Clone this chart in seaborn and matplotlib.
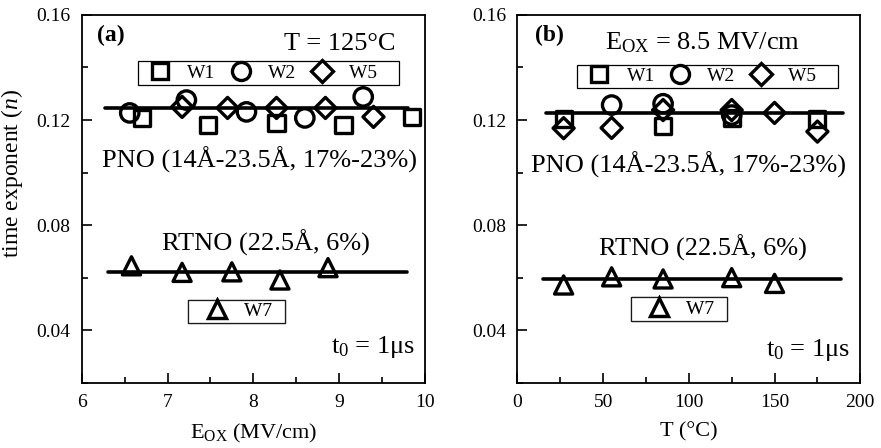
import matplotlib
matplotlib.use('Agg')
import matplotlib.pyplot as plt
import seaborn as sns
from matplotlib.lines import Line2D
from matplotlib.ticker import MultipleLocator

# ---------------- data: panel (a), T = 125 C ----------------
a_w1_x = [6.70, 7.47, 8.27, 9.05, 9.85]
a_w1_y = [0.1208, 0.1181, 0.1189, 0.1181, 0.1212]
a_w2_x = [6.56, 7.22, 7.92, 8.60, 9.28]
a_w2_y = [0.1227, 0.1276, 0.1231, 0.1208, 0.1288]
a_w5_x = [7.17, 7.70, 8.27, 8.84, 9.40]
a_w5_y = [0.1250, 0.1246, 0.1246, 0.1246, 0.1212]
a_w7_x = [6.58, 7.17, 7.75, 8.31, 8.87]
a_w7_y = [0.0645, 0.0620, 0.0622, 0.0591, 0.0638]
a_pno_fit_x = [6.27, 9.80]
a_pno_fit_y = [0.1246, 0.1246]
a_rtno_fit_x = [6.31, 9.79]
a_rtno_fit_y = [0.0620, 0.0620]

# ---------------- data: panel (b), Eox = 8.5 MV/cm ----------------
b_w1_x = [27, 85, 125, 175]
b_w1_y = [0.1204, 0.1177, 0.1209, 0.1204]
b_w2_x = [55, 85, 125]
b_w2_y = [0.1257, 0.1262, 0.1219]
b_w5_x = [27, 55, 85, 125, 150, 175]
b_w5_y = [0.1169, 0.1170, 0.1238, 0.1238, 0.1227, 0.1156]
b_w7_x = [27, 55, 85, 125, 150]
b_w7_y = [0.0572, 0.0603, 0.0595, 0.0600, 0.0578]
b_pno_fit_x = [17, 190]
b_pno_fit_y = [0.1226, 0.1226]
b_rtno_fit_x = [15, 189]
b_rtno_fit_y = [0.0594, 0.0594]

y_ticks = [0.04, 0.08, 0.12, 0.16]
y_tick_labels = ['0.04', '0.08', '0.12', '0.16']
a_x_ticks = [6, 7, 8, 9, 10]
b_x_ticks = [0, 50, 100, 150, 200]

sns.set_theme(style='ticks')
plt.rcParams['font.family'] = ['Liberation Serif', 'DejaVu Serif']
plt.rcParams['mathtext.fontset'] = 'custom'
plt.rcParams['mathtext.rm'] = 'Liberation Serif'
plt.rcParams['mathtext.it'] = 'Liberation Serif:italic'
plt.rcParams['mathtext.bf'] = 'Liberation Serif:bold'
plt.rcParams['text.color'] = 'black'
plt.rcParams['axes.labelcolor'] = 'black'
plt.rcParams['xtick.color'] = 'black'
plt.rcParams['ytick.color'] = 'black'

fig = plt.figure(figsize=(8.81, 4.48), dpi=100)
axa = fig.add_axes([0.0927, 0.1458, 0.3897, 0.8208])
axb = fig.add_axes([0.5872, 0.1458, 0.3893, 0.8208])

MS = {'s': 135, 'o': 175, 'D': 115, '^': 170}
MEW = 2.4


def pts(ax, x, y, m):
    sns.scatterplot(x=x, y=y, marker=m, s=MS[m], facecolor='none',
                    edgecolor='black', linewidth=MEW, ax=ax, zorder=3)


def fit(ax, x, y):
    sns.lineplot(x=x, y=y, color='black', linewidth=2.6, ax=ax, zorder=4)


def handle(m, ms):
    return Line2D([], [], linestyle='none', marker=m, markersize=ms,
                  markerfacecolor='none', markeredgecolor='black',
                  markeredgewidth=MEW)


def style(ax, xlim, xminor, xticks):
    ax.set_xlim(*xlim)
    ax.set_ylim(0.02, 0.16)
    ax.set_xticks(xticks)
    ax.xaxis.set_minor_locator(MultipleLocator(xminor))
    ax.set_yticks(y_ticks)
    ax.set_yticklabels(y_tick_labels)
    ax.yaxis.set_minor_locator(MultipleLocator(0.02))
    ax.tick_params(which='both', direction='in', top=False, right=False,
                   width=1.2, labelsize=14, colors='black', pad=8)
    ax.tick_params(which='major', length=7)
    ax.tick_params(which='minor', length=4)
    for sp in ax.spines.values():
        sp.set_visible(True)
        sp.set_linewidth(1.3)
        sp.set_color('black')


for ax, (w1x, w1y, w2x, w2y, w5x, w5y, w7x, w7y, pfx, pfy, rfx, rfy) in [
        (axa, (a_w1_x, a_w1_y, a_w2_x, a_w2_y, a_w5_x, a_w5_y, a_w7_x, a_w7_y,
               a_pno_fit_x, a_pno_fit_y, a_rtno_fit_x, a_rtno_fit_y)),
        (axb, (b_w1_x, b_w1_y, b_w2_x, b_w2_y, b_w5_x, b_w5_y, b_w7_x, b_w7_y,
               b_pno_fit_x, b_pno_fit_y, b_rtno_fit_x, b_rtno_fit_y))]:
    pts(ax, w1x, w1y, 's')
    pts(ax, w2x, w2y, 'o')
    pts(ax, w5x, w5y, 'D')
    pts(ax, w7x, w7y, '^')
    fit(ax, pfx, pfy)
    fit(ax, rfx, rfy)

style(axa, (6, 10), 0.5, a_x_ticks)
style(axb, (0, 200), 25, b_x_ticks)

axa.set_xlabel(r'$\mathrm{E}_{\mathrm{OX}}$ (MV/cm)', fontsize=16, labelpad=8)
axb.set_xlabel('T (°C)', fontsize=16, labelpad=8)
axa.set_ylabel(r'time exponent ($n$)', fontsize=17)
axa.yaxis.set_label_coords(-0.165, 0.568)
axb.set_ylabel('')

big = 19
# panel (a) texts
axa.text(0.045, 0.943, '(a)', transform=axa.transAxes, fontsize=17,
         fontweight='bold', ha='left', va='center')
axa.text(0.913, 0.905, 'T = 125°C', transform=axa.transAxes, fontsize=big,
         ha='right', va='baseline')
axa.text(0.517, 0.606, 'PNO (14Å-23.5Å, 17%-23%)', transform=axa.transAxes,
         fontsize=big, ha='center', va='center')
axa.text(0.537, 0.38, 'RTNO (22.5Å, 6%)', transform=axa.transAxes,
         fontsize=big, ha='center', va='center')
axa.text(0.97, 0.097, r't$_{0}$ = 1μs', transform=axa.transAxes,
         fontsize=big, ha='right', va='center')
# panel (b) texts
axb.text(0.052, 0.943, '(b)', transform=axb.transAxes, fontsize=17,
         fontweight='bold', ha='left', va='center')
axb.text(0.54, 0.905, r'E$_{\mathrm{OX}}$ = 8.5 MV/cm', transform=axb.transAxes,
         fontsize=big, ha='center', va='baseline')
axb.text(0.5, 0.592, 'PNO (14Å-23.5Å, 17%-23%)', transform=axb.transAxes,
         fontsize=big, ha='center', va='center')
axb.text(0.54, 0.366, 'RTNO (22.5Å, 6%)', transform=axb.transAxes,
         fontsize=big, ha='center', va='center')
axb.text(0.969, 0.089, r't$_{0}$ = 1μs', transform=axb.transAxes,
         fontsize=big, ha='right', va='center')

legend_labels = ['W1', 'W2', 'W5    ']
for ax, (cx, cy), (wx, wy) in [(axa, (0.544, 0.842), (0.451, 0.194)),
                               (axb, (0.555, 0.833), (0.471, 0.200))]:
    hs = [handle('s', 11.5), handle('o', 13), handle('D', 11)]
    leg = ax.legend(hs, legend_labels, ncol=3, loc='center',
                    bbox_to_anchor=(cx, cy), bbox_transform=ax.transAxes,
                    frameon=True, fancybox=False, fontsize=14,
                    borderpad=0.15, handletextpad=0.4, columnspacing=0.3,
                    handlelength=2.0, borderaxespad=0)
    leg.get_frame().set_edgecolor('black')
    leg.get_frame().set_linewidth(0.9)
    leg.get_frame().set_alpha(1)
    ax.add_artist(leg)
    leg2 = ax.legend([handle('^', 13)], ['W7  '], loc='center',
                     bbox_to_anchor=(wx, wy), bbox_transform=ax.transAxes,
                     frameon=True, fancybox=False, fontsize=14,
                     borderpad=0.15, handletextpad=0.1, handlelength=2.6,
                     borderaxespad=0)
    leg2.get_frame().set_edgecolor('black')
    leg2.get_frame().set_linewidth(0.9)
    ax.add_artist(leg2)

fig.savefig('out.png', dpi=100)
